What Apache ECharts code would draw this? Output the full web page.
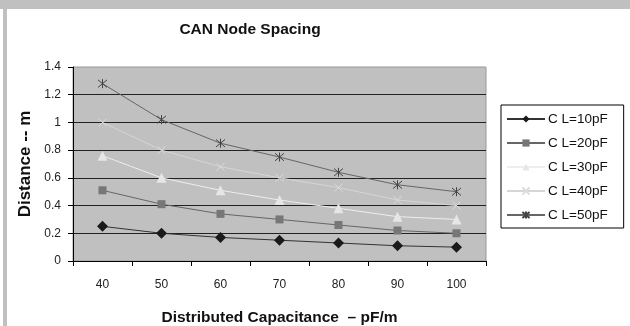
<!DOCTYPE html>
<html>
<head>
<meta charset="utf-8">
<script src="https://cdn.jsdelivr.net/npm/echarts@6/dist/echarts.min.js"></script>
<style>
    html, body {
        margin: 0;
        padding: 0;
        background: #fff;
    }
    #nodeSpacingChart {
        width: 630px;
        height: 326px;
    }
</style>
</head>
<body>
<div id="nodeSpacingChart"></div>
<script>
const capacitance = ["40", "50", "60", "70", "80", "90", "100"];
const cl10 = [0.25, 0.2, 0.17, 0.15, 0.13, 0.11, 0.1];
const cl20 = [0.51, 0.41, 0.34, 0.3, 0.26, 0.22, 0.2];
const cl30 = [0.76, 0.6, 0.51, 0.44, 0.38, 0.32, 0.3];
const cl40 = [1.0, 0.8, 0.68, 0.6, 0.53, 0.44, 0.4];
const cl50 = [1.28, 1.02, 0.85, 0.75, 0.64, 0.55, 0.5];

const font = "'Liberation Sans', Arial, sans-serif";
const xMark = "path://M0,0L10,10M10,0L0,10";
const starMark = "path://M0,0L10,10M10,0L0,10M5,-1L5,11";

function makeSeries(name, data, lineColor, symbol, symbolSize, markColor, strokeMark) {
    return {
        name: name,
        type: "line",
        data: data,
        symbol: symbol,
        symbolSize: symbolSize,
        color: lineColor,
        lineStyle: {
            color: lineColor,
            width: 1,
        },
        itemStyle: strokeMark
            ? { color: markColor, borderColor: markColor, borderWidth: 1 }
            : { color: markColor, borderColor: markColor, borderWidth: 0 },
        emphasis: { disabled: true },
        z: 3,
    };
}

let chartOption = {
    animation: false,
    textStyle: { fontFamily: font },
    title: {
        text: "CAN Node Spacing",
        left: 245,
        textAlign: "center",
        top: 17,
        textStyle: {
            fontFamily: font,
            fontSize: 15.5,
            fontWeight: "bold",
            color: "#111",
        },
    },
    graphic: [
        {
            type: "rect",
            shape: { x: 0, y: 0, width: 630, height: 9 },
            style: { fill: "#c0c0c0" },
            silent: true,
        },
        {
            type: "rect",
            shape: { x: 3, y: 0, width: 4, height: 326 },
            style: { fill: "#c0c0c0" },
            silent: true,
        },
    ],
    legend: {
        orient: "vertical",
        left: 501,
        top: 105,
        padding: [7, 16, 6, 5],
        itemGap: 10,
        itemWidth: 38,
        itemHeight: 9,
        backgroundColor: "#fff",
        borderColor: "#000",
        borderWidth: 1,
        textStyle: {
            fontFamily: font,
            fontSize: 13.5,
            color: "#111",
            padding: [0, 0, 0, -2],
        },
        data: ["C L=10pF", "C L=20pF", "C L=30pF", "C L=40pF", "C L=50pF"],
    },
    grid: {
        left: 73,
        top: 67,
        right: 144,
        bottom: 65,
        outerBoundsMode: "none",
        show: true,
        backgroundColor: "#c0c0c0",
        borderColor: "#999",
        borderWidth: 1,
    },
    xAxis: {
        type: "category",
        data: capacitance,
        boundaryGap: true,
        name: "Distributed Capacitance  – pF/m",
        nameLocation: "center",
        nameGap: 49,
        nameTextStyle: {
            fontFamily: font,
            fontSize: 15.5,
            fontWeight: "bold",
            color: "#111",
        },
        axisLine: { lineStyle: { color: "#000", width: 1 } },
        axisTick: { show: true, interval: 0, length: 5, lineStyle: { color: "#000" } },
        axisLabel: {
            margin: 18,
            fontSize: 12,
            color: "#222",
            fontFamily: font,
        },
    },
    yAxis: {
        type: "value",
        min: 0,
        max: 1.4,
        interval: 0.2,
        name: "Distance -- m",
        nameLocation: "center",
        nameGap: 38,
        nameTextStyle: {
            fontFamily: font,
            fontSize: 17,
            fontWeight: "bold",
            color: "#111",
        },
        axisLine: { show: true, lineStyle: { color: "#000", width: 1 } },
        axisTick: { show: true, length: 5, lineStyle: { color: "#000" } },
        axisLabel: {
            margin: 12,
            fontSize: 12,
            color: "#222",
            fontFamily: font,
        },
        splitLine: {
            show: true,
            lineStyle: {
                color: ["#222", "#222", "#222", "#222", "#222", "#222", "#222", "#aaa"],
                width: 1,
            },
        },
    },
    series: [
        makeSeries("C L=10pF", cl10, "#333", "diamond", 11, "#1a1a1a", false),
        makeSeries("C L=20pF", cl20, "#666", "rect", 8, "#777", false),
        makeSeries("C L=30pF", cl30, "#eeeeee", "triangle", 10, "#e6e6e6", false),
        makeSeries("C L=40pF", cl40, "#d6d6d6", xMark, 8, "#dcdcdc", true),
        makeSeries("C L=50pF", cl50, "#666", starMark, 9, "#444", true),
    ],
};

let chartDom = document.getElementById("nodeSpacingChart");
let myChart = echarts.init(chartDom);
myChart.setOption(chartOption);
</script>
</body>
</html>
